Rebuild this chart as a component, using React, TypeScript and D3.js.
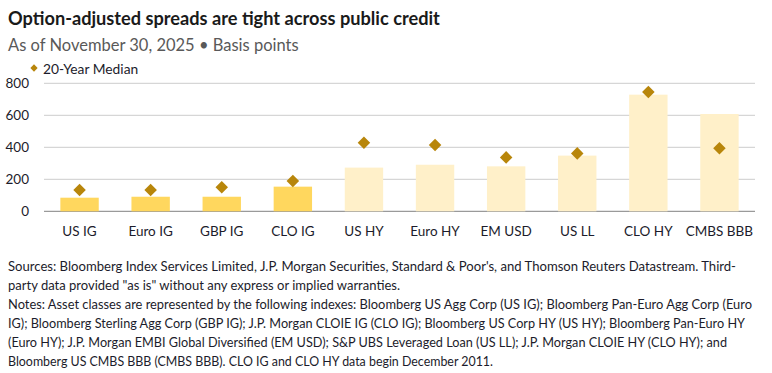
import React from "react";
import * as d3 from "d3";

const categories = ["US IG", "Euro IG", "GBP IG", "CLO IG", "US HY", "Euro HY", "EM USD", "US LL", "CLO HY", "CMBS BBB"];
const currentSpread = [85, 91, 91, 154, 273, 291, 281, 348, 729, 608];
const medianSpread = [133, 133, 150, 189, 429, 415, 337, 362, 746, 394];
const isIG = [true, true, true, true, false, false, false, false, false, false];
const yTicks = [0, 200, 400, 600, 800];

const title = "Option-adjusted spreads are tight across public credit";
const subtitle = "As of November 30, 2025 \u2022 Basis points";
const legendLabel = "20-Year Median";
const noteLines = [
  "Sources: Bloomberg Index Services Limited, J.P. Morgan Securities, Standard & Poor's, and Thomson Reuters Datastream. Third-",
  "party data provided \"as is\" without any express or implied warranties.",
  "Notes: Asset classes are represented by the following indexes: Bloomberg US Agg Corp (US IG); Bloomberg Pan-Euro Agg Corp (Euro",
  "IG); Bloomberg Sterling Agg Corp (GBP IG); J.P. Morgan CLOIE IG (CLO IG); Bloomberg US Corp HY (US HY); Bloomberg Pan-Euro HY",
  "(Euro HY); J.P. Morgan EMBI Global Diversified (EM USD); S&P UBS Leveraged Loan (US LL); J.P. Morgan CLOIE HY (CLO HY); and",
  "Bloomberg US CMBS BBB (CMBS BBB). CLO IG and CLO HY data begin December 2011.",
];
// rendered width of each note line in the reference (px)
const noteWidths = [728, 392, 744, 737, 719, 485];

const FONT = "Lato, 'Open Sans', sans-serif";
const TEXT = "#1c1c2b";

export default function App() {
  const W = 772;
  const H = 373;
  const left = 44;
  const right = 755;
  const top = 83.3;
  const bottom = 211.3;

  const x = d3.scaleBand<string>().domain(categories).range([left, right]).paddingInner(0.46).paddingOuter(0.23);
  const y = d3.scaleLinear().domain([0, 800]).range([bottom, top]);
  const diamond = d3.symbol().type(d3.symbolDiamond2).size(100)();
  const legendDiamond = d3.symbol().type(d3.symbolDiamond2).size(34)();

  return (
    <svg width={W} height={H} style={{ position: "absolute", left: 0, top: 0, background: "#fff" }} fontFamily={FONT}>
      <text x={8} y={25} fontSize={18.2} fontWeight={700} fill="#1a1a1a">{title}</text>
      <text x={8} y={51} fontSize={16.5} fill="#595959">{subtitle}</text>

      <path d={legendDiamond} transform="translate(34,68)" fill="#b8860b" />
      <text x={43} y={73.5} fontSize={13.8} fill={TEXT}>{legendLabel}</text>

      {yTicks.map((t) => (
        <g key={t}>
          <line x1={left} x2={right} y1={y(t)} y2={y(t)} stroke={t === 0 ? "#9a9a9a" : "#cccccc"} strokeWidth={t === 0 ? 1.3 : 1} />
          <text x={29} y={y(t) + 4.5} textAnchor="end" fontSize={13.5} fill={TEXT}>{t}</text>
        </g>
      ))}

      {categories.map((c, i) => (
        <rect
          key={c}
          x={x(c)}
          y={y(currentSpread[i])}
          width={x.bandwidth()}
          height={y(0) - y(currentSpread[i])}
          fill={isIG[i] ? "#ffd75e" : "#fff0c9"}
        />
      ))}

      {categories.map((c, i) => (
        <path
          key={c}
          d={diamond}
          transform={`translate(${(x(c) ?? 0) + x.bandwidth() / 2},${y(medianSpread[i])})`}
          fill="#b8860b"
        />
      ))}

      {categories.map((c) => (
        <text key={c} x={(x(c) ?? 0) + x.bandwidth() / 2} y={236} textAnchor="middle" fontSize={13.5} fill={TEXT}>
          {c}
        </text>
      ))}

      {noteLines.map((l, i) => (
        <text
          key={i}
          x={8}
          y={271 + i * 19}
          fontSize={13.1}
          fill={TEXT}
          textLength={noteWidths[i]}
          lengthAdjust="spacingAndGlyphs"
        >
          {l}
        </text>
      ))}
    </svg>
  );
}
